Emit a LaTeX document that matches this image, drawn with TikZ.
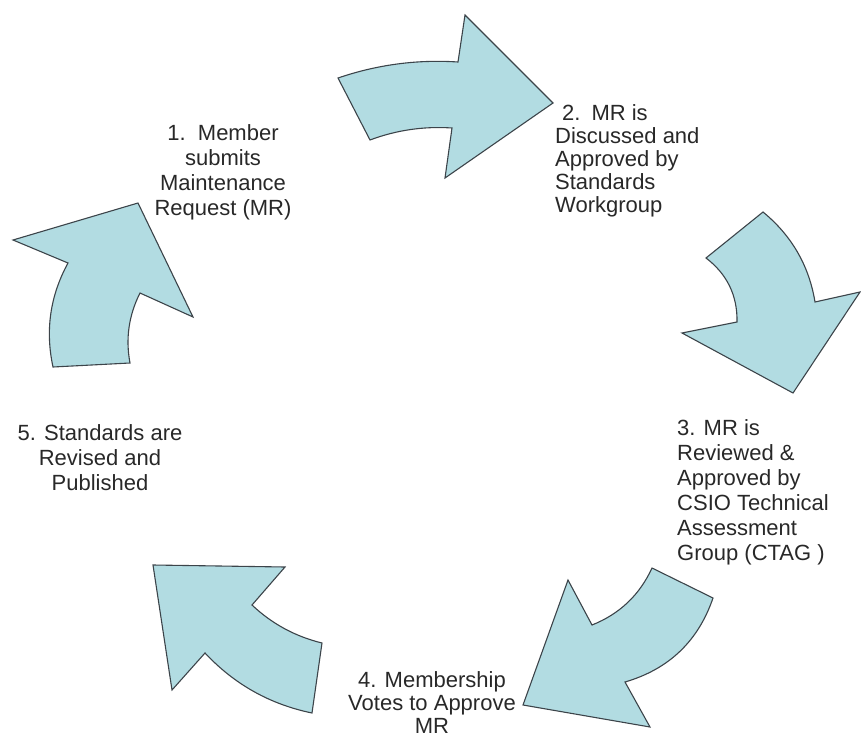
\documentclass[tikz,border=0pt]{standalone}
\usepackage{fontspec}
\setmainfont{Liberation Sans}
\definecolor{arrowfill}{RGB}{178,220,226}
\definecolor{arrowline}{RGB}{60,68,74}
\definecolor{labeltext}{RGB}{40,40,40}
\begin{document}
\begin{tikzpicture}[x=1pt,y=-1pt,
  cyclearrow/.style={fill=arrowfill,draw=arrowline,line width=1.1pt,line join=miter},
  steptext/.style={inner sep=0pt,text=labeltext}]
\useasboundingbox (0,0) rectangle (861,738);
% arrow 1 (top)
\draw[cyclearrow] (338,78) .. controls (377,64.7) and (417,59.3) .. (458,62) -- (465,15) -- (553,103)
  -- (445,178) -- (452,128) .. controls (423.8,126.1) and (396.4,130.1) .. (370,140) -- cycle;
% arrow 2 (right)
\draw[cyclearrow] (706,258) -- (763,212) .. controls (791.6,235.5) and (809,265.5) .. (815,302) -- (860,292)
  -- (793,393) -- (682,333) -- (737,322) .. controls (737.5,295.5) and (727.1,274.1) .. (706,258) -- cycle;
% arrow 3 (bottom right)
\draw[cyclearrow] (652,568) -- (713,598) .. controls (698.2,641.2) and (668.8,669.2) .. (625,682) -- (650,727)
  -- (523,705) -- (568,580) -- (592,625) .. controls (619.6,614) and (639.6,595) .. (652,568) -- cycle;
% arrow 4 (bottom left)
\draw[cyclearrow] (153,565) -- (285,567) -- (252,605) .. controls (272,623.9) and (295.4,636.5) .. (322,643)
  -- (312,713) .. controls (269.9,704.3) and (234.3,684.3) .. (205,653) -- (172,690) -- cycle;
% arrow 5 (left)
\draw[cyclearrow] (53,367) -- (130,363) .. controls (125.4,338.6) and (128.8,315.2) .. (140,293) -- (193,317)
  -- (138,203) -- (13,240) -- (68,263) .. controls (50.1,295.8) and (45.1,330.4) .. (53,367) -- cycle;
% labels
\node[steptext,anchor=north,align=center,font=\fontsize{22}{25}\selectfont] (s1) at (223,124)
  {1.\ \ Member\\submits\\Maintenance\\Request (MR)};
\node[steptext,anchor=north west,align=left,font=\fontsize{22}{23}\selectfont] (s2) at (555,104)
  {\hspace*{7pt}2.\hspace{11pt}MR is\\Discussed and\\Approved by\\Standards\\Workgroup};
\node[steptext,anchor=north west,align=left,font=\fontsize{22}{25}\selectfont] (s3) at (677,419)
  {3. MR is\\Reviewed \&\\Approved by\\CSIO Technical\\Assessment\\Group (CTAG )};
\node[steptext,anchor=north,align=center,font=\fontsize{22}{23}\selectfont] (s4) at (432,671)
  {4. Membership\\Votes to Approve\\MR};
\node[steptext,anchor=north,align=center,font=\fontsize{22}{25}\selectfont] (s5) at (100,424)
  {5. Standards are\\Revised and\\Published};
\end{tikzpicture}
\end{document}
